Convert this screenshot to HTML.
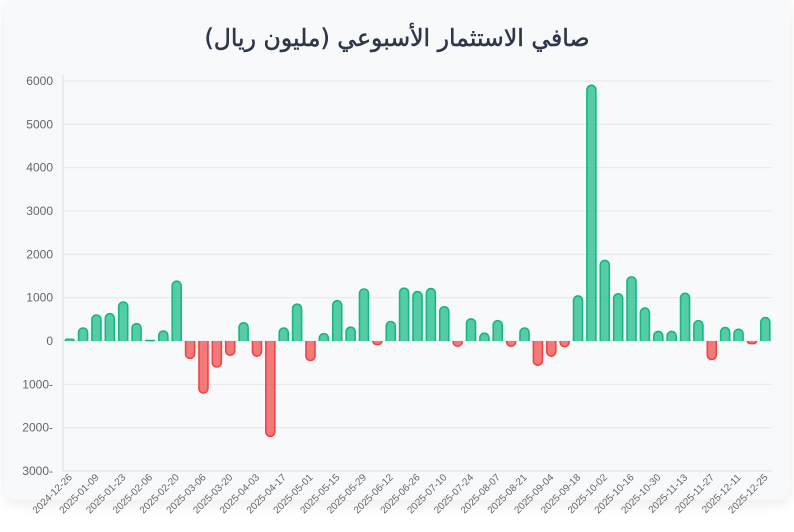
<!DOCTYPE html>
<html><head><meta charset="utf-8"><style>
html,body{margin:0;padding:0;background:#fff;width:794px;height:532px;overflow:hidden}
.card{position:absolute;left:4px;top:-4px;width:786px;height:504px;background:#f8f9fb;border-radius:12px;box-shadow:0 4px 14px rgba(0,0,0,0.08)}
svg{position:absolute;left:0;top:0}
</style></head><body>
<div class="card"></div>
<svg width="794" height="532" xmlns="http://www.w3.org/2000/svg" font-family="Liberation Sans, sans-serif">
<text x="397" y="46" text-anchor="middle" direction="rtl" font-size="24" fill="#2d3748" stroke="#2d3748" stroke-width="0.5" textLength="385" lengthAdjust="spacingAndGlyphs" font-family="DejaVu Sans, sans-serif">صافي الاستثمار الأسبوعي (مليون ريال)</text>
<g id="g"></g>
</svg>
<script>
const vals=[40,300,600,630,900,400,10,230,1380,-400,-1200,-600,-330,420,-350,-2200,300,850,-450,170,930,320,1200,-80,450,1220,1140,1210,790,-120,510,180,470,-120,300,-560,-350,-130,1040,5900,1860,1090,1480,760,220,220,1100,470,-430,310,270,-60,540];
const labels=["2024-12-26","2025-01-09","2025-01-23","2025-02-06","2025-02-20","2025-03-06","2025-03-20","2025-04-03","2025-04-17","2025-05-01","2025-05-15","2025-05-29","2025-06-12","2025-06-26","2025-07-10","2025-07-24","2025-08-07","2025-08-21","2025-09-04","2025-09-18","2025-10-02","2025-10-16","2025-10-30","2025-11-13","2025-11-27","2025-12-11","2025-12-25"];
const y0=341,k=43.33/1000,x0=63,x1=772,step=(x1-x0)/53;
let s='';
for(let v=6000;v>=-3000;v-=1000){const y=y0-v*k;s+=`<line x1="${x0}" x2="${x1}" y1="${y}" y2="${y}" stroke="#e6e8eb" stroke-width="1"/>`;
s+=`<text x="53" y="${y+4}" text-anchor="end" font-size="12" fill="#666">${v<0?(-v)+'-':v}</text>`;}
s+=`<line x1="${x0}" x2="${x0}" y1="75" y2="${y0+3000*k}" stroke="#ddd"/>`;
s+=`<line x1="${x0}" x2="${x1}" y1="${y0+3000*k}" y2="${y0+3000*k}" stroke="#ddd"/>`;
vals.forEach((v,i)=>{const cx=x0+step*(i+0.5),w=9,h=Math.abs(v)*k,r=Math.min(4.5,h);
const pos=v>=0;const fill=pos?'rgba(16,185,129,0.7)':'rgba(239,68,68,0.7)',st=pos?'#10b981':'#ef4444';
const l=cx-w/2,rr=cx+w/2;let d;
if(pos){const t=y0-h;d=`M${l},${y0}V${t+r}A${r},${r} 0 0 1 ${l+r},${t}H${rr-r}A${r},${r} 0 0 1 ${rr},${t+r}V${y0}`;}
else{const b=y0+h;d=`M${l},${y0}V${b-r}A${r},${r} 0 0 0 ${l+r},${b}H${rr-r}A${r},${r} 0 0 0 ${rr},${b-r}V${y0}`;}
s+=`<path d="${d}" fill="${fill}" stroke="${st}" stroke-width="1.6"/>`;});
labels.forEach((t,j)=>{const cx=x0+step*(2*j+0.5)+3;s+=`<text transform="translate(${cx},478) rotate(-45)" text-anchor="end" font-size="10" fill="#666">${t}</text>`;});
document.getElementById('g').innerHTML=s;
</script>
</body></html>
